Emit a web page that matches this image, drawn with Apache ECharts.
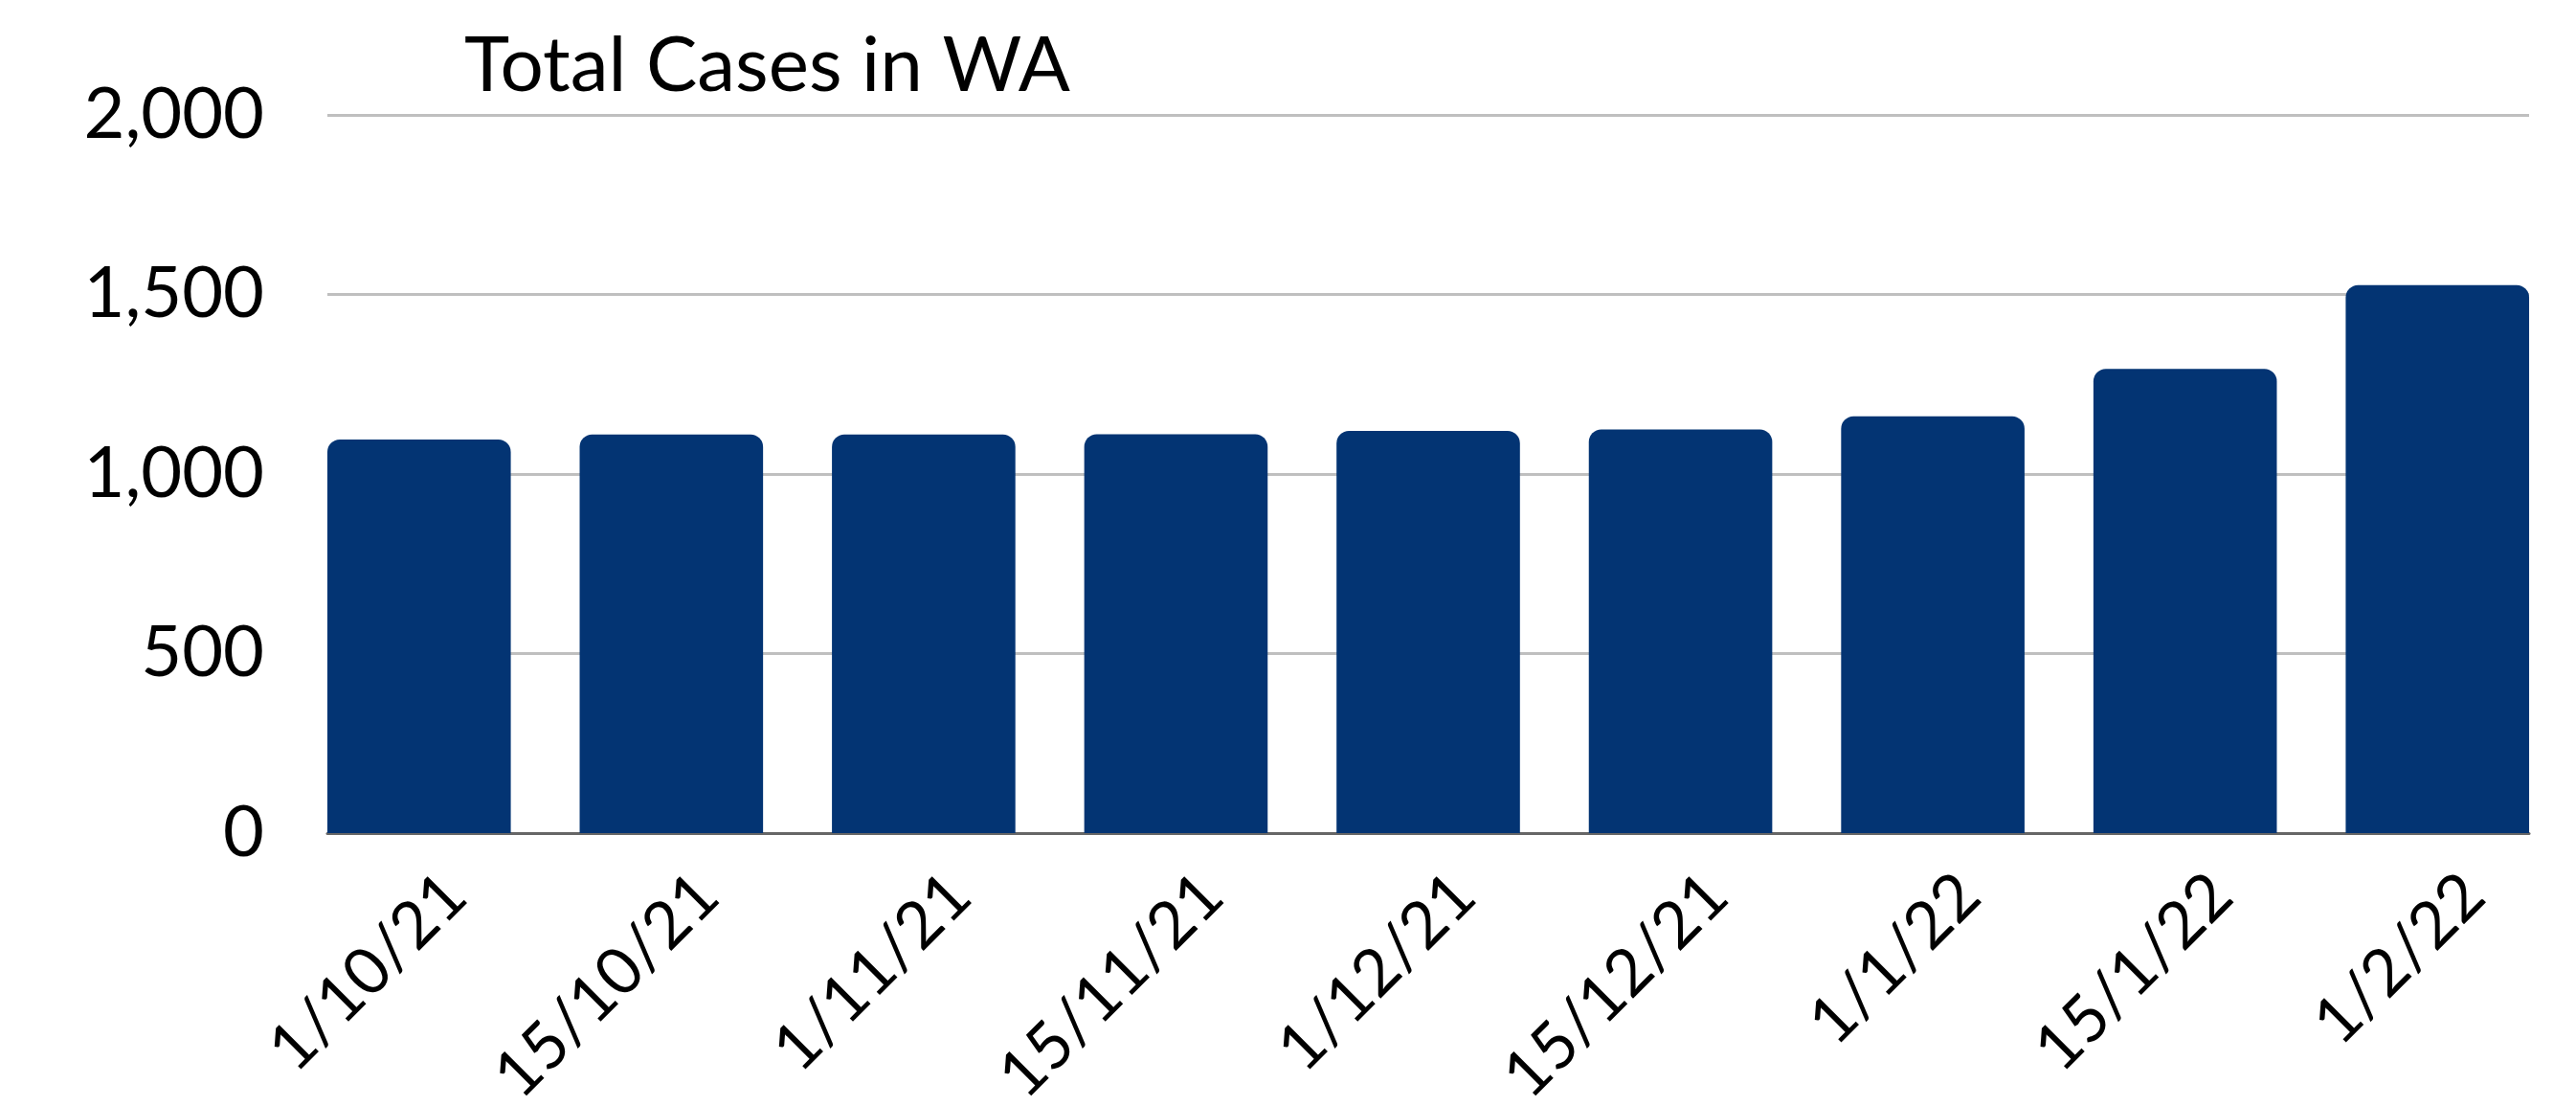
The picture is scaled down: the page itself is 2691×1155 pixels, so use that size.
<!DOCTYPE html>
<html>
<head>
<meta charset="utf-8">
<script src="https://cdn.jsdelivr.net/npm/echarts@6/dist/echarts.min.js"></script>
<style>
html,body{margin:0;padding:0;background:#fff;}
#c{width:2691px;height:1155px;}
</style>
</head>
<body>
<div id="c"></div>
<script>
const categories = ['1/10/21','15/10/21','1/11/21','15/11/21','1/12/21','15/12/21','1/1/22','15/1/22','1/2/22'];
const totalCases = [1096, 1110, 1110, 1111, 1120, 1124, 1161, 1293, 1526];
const yTicks = [0, 500, 1000, 1500, 2000];
const titleText = 'Total Cases in WA';

const chart = echarts.init(document.getElementById('c'));
const FONT = 'Lato';
const yMax = yTicks[yTicks.length - 1];
const yStep = yTicks[1] - yTicks[0];
chart.setOption({
  animation: false,
  backgroundColor: '#ffffff',
  title: {
    text: titleText,
    left: 480, top: 24,
    textStyle: { fontFamily: FONT, fontSize: 80, fontWeight: 'normal', color: '#000' }
  },
  grid: [
    { left: 342, right: 49, top: 120, bottom: 285, outerBoundsMode: 'none', containLabel: false },
    { left: 306, right: 13, top: 120, bottom: 285, outerBoundsMode: 'none', containLabel: false },
    { left: 344, right: -25, top: 120, bottom: 285, outerBoundsMode: 'none', containLabel: false }
  ],
  xAxis: [
    {
      gridIndex: 0, type: 'category', data: categories,
      axisLine: { lineStyle: { color: '#666666', width: 3 } },
      axisTick: { show: false }, axisLabel: { show: false }
    },
    {
      gridIndex: 1, type: 'category', data: categories,
      axisLine: { show: false }, axisTick: { show: false }, axisLabel: { show: false }
    },
    {
      gridIndex: 2, type: 'category', data: categories,
      axisLine: { show: false }, axisTick: { show: false },
      axisLabel: {
        rotate: 45, margin: 54, interval: 0,
        fontFamily: FONT, fontSize: 68, color: '#000'
      }
    }
  ],
  yAxis: [
    {
      gridIndex: 0, type: 'value', min: 0, max: yMax, interval: yStep,
      axisLine: { show: false }, axisTick: { show: false },
      splitLine: { lineStyle: { color: '#BFBFBF', width: 3 } },
      axisLabel: {
        margin: 66, fontFamily: FONT, fontSize: 74, color: '#000',
        formatter: v => v.toLocaleString('en-US')
      }
    },
    {
      gridIndex: 1, type: 'value', min: 0, max: yMax, interval: yStep,
      axisLine: { show: false }, axisTick: { show: false },
      splitLine: { show: false }, axisLabel: { show: false }
    },
    {
      gridIndex: 2, type: 'value', min: 0, max: yMax, interval: yStep,
      axisLine: { show: false }, axisTick: { show: false },
      splitLine: { show: false }, axisLabel: { show: false }
    }
  ],
  series: [{
    type: 'bar',
    xAxisIndex: 1, yAxisIndex: 1,
    data: totalCases,
    barCategoryGap: '27.3%',
    z: 5,
    itemStyle: { color: '#033473', borderRadius: [13, 13, 0, 0] }
  }]
});
</script>
</body>
</html>
